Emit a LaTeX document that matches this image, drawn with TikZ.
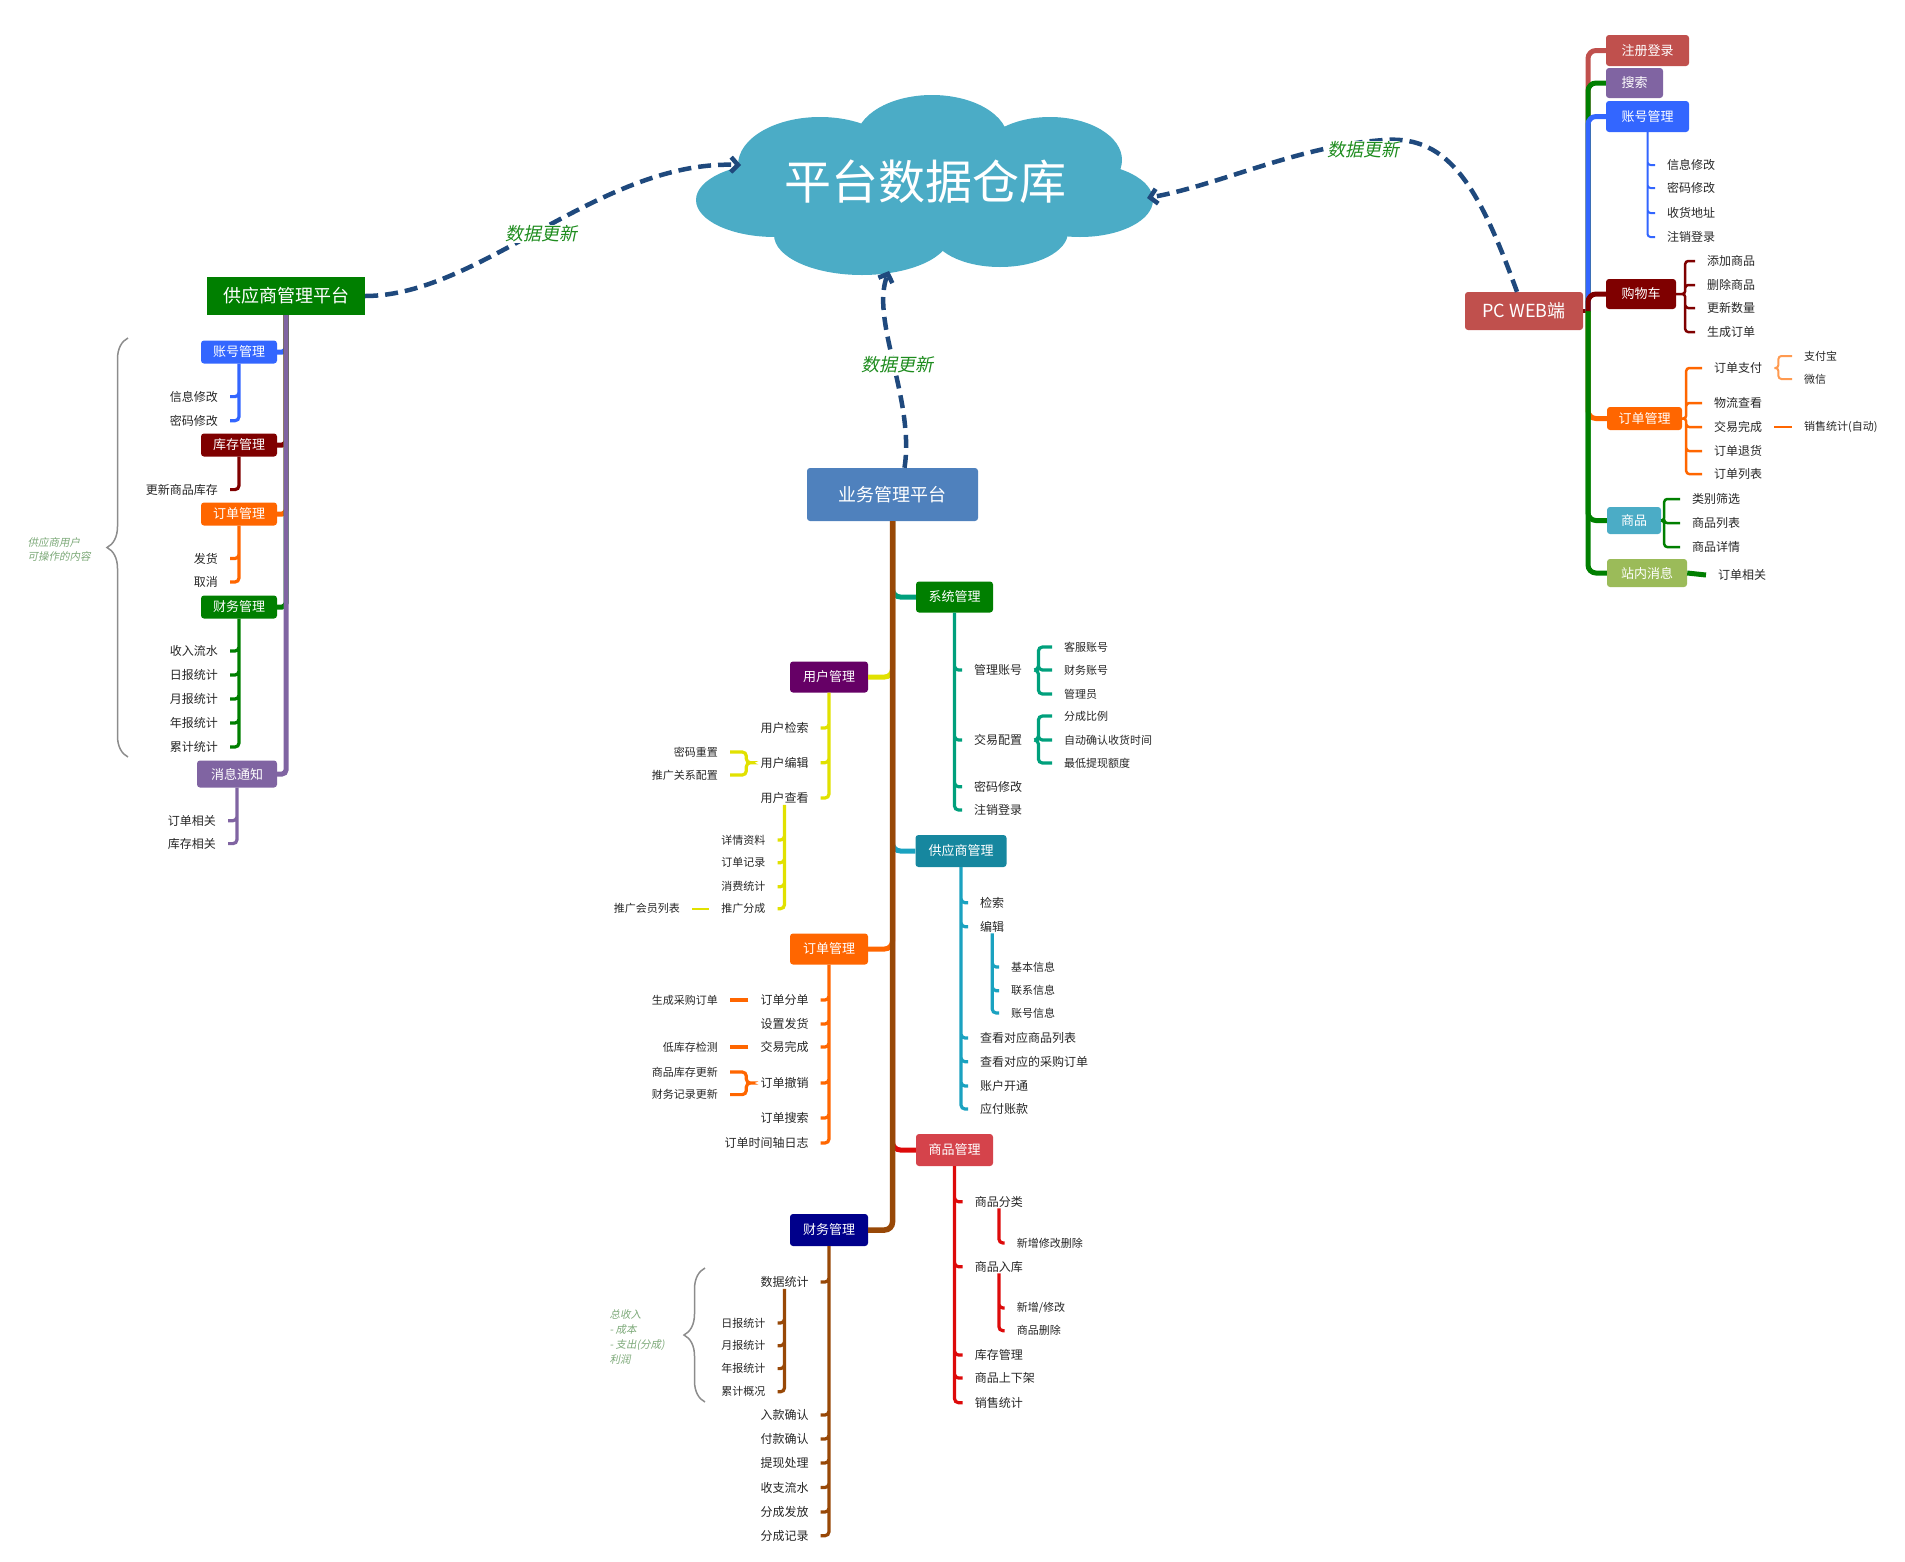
\documentclass[tikz,border=0pt]{standalone}
\usepackage{fontspec}
\setmainfont{Noto Sans CJK SC}
\newfontfamily\slantfont[FakeSlant=0.2]{Noto Sans CJK SC}
\usetikzlibrary{arrows.meta,decorations.pathreplacing}
\definecolor{cloudblue}{HTML}{4BACC6}
\definecolor{updblue}{HTML}{1F497D}
\definecolor{updgreen}{HTML}{1E8C1E}
\definecolor{notegreen}{HTML}{7BA877}
\definecolor{leafgray}{HTML}{262626}
\definecolor{darkgreen}{HTML}{007F00}
\definecolor{royal}{HTML}{3366FF}
\definecolor{maroon}{HTML}{7F0000}
\definecolor{ordorange}{HTML}{FF6600}
\definecolor{paylight}{HTML}{FF9A50}
\definecolor{msgpurple}{HTML}{8064A2}
\definecolor{brick}{HTML}{C0504D}
\definecolor{steel}{HTML}{4F81BD}
\definecolor{trunkbrown}{HTML}{984807}
\definecolor{sysline}{HTML}{00A07C}
\definecolor{supbox}{HTML}{16879F}
\definecolor{supline}{HTML}{1AA2C0}
\definecolor{goodsbox}{HTML}{D5434B}
\definecolor{goodsline}{HTML}{DD0A0A}
\definecolor{userbox}{HTML}{660066}
\definecolor{userline}{HTML}{E1E100}
\definecolor{finbox}{HTML}{00008B}
\definecolor{msggreen}{HTML}{9BBB59}
\definecolor{bracegray}{HTML}{8C8C8C}
\tikzset{
  box/.style={
    rounded corners=3pt, text=white, inner sep=0pt,
    minimum width=76pt, minimum height=23pt,
    font=\fontsize{13}{15}\selectfont
  },
  titlebox/.style={box, font=\fontsize{18}{20}\selectfont},
  leaf/.style={text=leafgray, inner xsep=12pt, inner ysep=1pt, font=\fontsize{12}{14}\selectfont},
  subleaf/.style={leaf, font=\fontsize{11}{13}\selectfont},
  trunk/.style={line width=5pt, rounded corners=8pt},
  twig/.style={line width=3.2pt, rounded corners=4pt},
  thintwig/.style={line width=2pt, rounded corners=3pt},
  update/.style={draw=updblue, line width=4.5pt, dash pattern=on 13pt off 7pt,
    -{Straight Barb[length=7pt,width=15pt]}},
  updlabel/.style={text=updgreen, fill=white, inner sep=1pt, font=\slantfont\fontsize{18}{20}\selectfont},
  note/.style={text=notegreen, align=left, font=\slantfont\fontsize{10.5}{14.5}\selectfont},
  bracket/.style={draw=bracegray, line width=1.5pt, decorate, decoration={brace, amplitude=21pt}}
}
\begin{document}
\begin{tikzpicture}[x=1pt, y=-1pt]
  \useasboundingbox (0,0) rectangle (1905,1561);

  % data warehouse cloud
  \fill[cloudblue] (925,190) ellipse [x radius=180pt, y radius=58pt];
  \fill[cloudblue] (932,140) ellipse [x radius=76pt, y radius=45pt];
  \fill[cloudblue] (820,165) ellipse [x radius=82pt, y radius=48pt];
  \fill[cloudblue] (1050,160) ellipse [x radius=72pt, y radius=43pt];
  \fill[cloudblue] (775,200) ellipse [x radius=79pt, y radius=37pt];
  \fill[cloudblue] (1080,200) ellipse [x radius=73pt, y radius=37pt];
  \fill[cloudblue] (862,235) ellipse [x radius=88pt, y radius=40pt];
  \fill[cloudblue] (1000,232) ellipse [x radius=68pt, y radius=35pt];
  \node[text=white, font=\fontsize{47}{50}\selectfont] (dw) at (925,182) {平台数据仓库};
  \coordinate (dwL) at (741,165);
  \coordinate (dwB) at (889,271);
  \coordinate (dwR) at (1147,198);

  % supplier platform (left)
  \node[titlebox, fill=darkgreen, rounded corners=0pt, minimum width=158pt, minimum height=38pt] (sup) at (286,296) {供应商管理平台};
  \node[box, fill=royal] (s_acc) at (239,352) {账号管理};
  \node[box, fill=maroon] (s_inv) at (239,445) {库存管理};
  \node[box, fill=ordorange] (s_ord) at (239,514) {订单管理};
  \node[box, fill=darkgreen] (s_fin) at (239,607) {财务管理};
  \node[box, fill=msgpurple, minimum width=80pt, minimum height=27pt] (s_msg) at (237,774) {消息通知};

  \draw[trunk, rounded corners=4pt, royal] (sup.south) |- (s_acc.east);
  \draw[trunk, rounded corners=4pt, maroon] (sup.south) |- (s_inv.east);
  \draw[trunk, rounded corners=4pt, ordorange] (sup.south) |- (s_ord.east);
  \draw[trunk, rounded corners=4pt, darkgreen] (sup.south) |- (s_fin.east);
  \draw[trunk, rounded corners=4pt, msgpurple] (sup.south) |- (s_msg.east);

  \node[leaf, anchor=east] (sa1) at (230,396.6) {信息修改};
  \node[leaf, anchor=east] (sa2) at (230,420.7) {密码修改};
  \node[leaf, anchor=east] (si1) at (230,489.6) {更新商品库存};
  \node[leaf, anchor=east] (so1) at (230,558.5) {发货};
  \node[leaf, anchor=east] (so2) at (230,582) {取消};
  \node[leaf, anchor=east] (sf1) at (230,651) {收入流水};
  \node[leaf, anchor=east] (sf2) at (230,675) {日报统计};
  \node[leaf, anchor=east] (sf3) at (230,699) {月报统计};
  \node[leaf, anchor=east] (sf4) at (230,723) {年报统计};
  \node[leaf, anchor=east] (sf5) at (230,747) {累计统计};
  \node[leaf, anchor=east] (sm1x) at (228,820.7) {订单相关};
  \node[leaf, anchor=east] (sm2x) at (228,843.6) {库存相关};

  \draw[twig, royal] (s_acc.south) |- (sa1.east) (s_acc.south) |- (sa2.east);
  \draw[twig, maroon] (s_inv.south) |- (si1.east);
  \draw[twig, ordorange] (s_ord.south) |- (so1.east) (s_ord.south) |- (so2.east);
  \draw[twig, darkgreen] (s_fin.south) |- (sf1.east) (s_fin.south) |- (sf2.east)
    (s_fin.south) |- (sf3.east) (s_fin.south) |- (sf4.east) (s_fin.south) |- (sf5.east);
  \draw[twig, msgpurple] (s_msg.south) |- (sm1x.east) (s_msg.south) |- (sm2x.east);

  \draw[bracket] (128,757) -- (128,338);
  \node[note, anchor=west] (snote) at (24,549.5) {供应商用户\\可操作的内容};

  % business platform (centre)
  \node[titlebox, fill=steel, minimum width=171pt, minimum height=53pt] (biz) at (892.5,494.5) {业务管理平台};
  \node[box, fill=darkgreen, minimum width=77pt, minimum height=31pt] (c_sys) at (954.5,597) {系统管理};
  \node[box, fill=userbox, minimum width=78pt, minimum height=31pt] (c_user) at (829,677) {用户管理};
  \node[box, fill=supbox, minimum width=91pt, minimum height=32pt] (c_sup) at (961,851) {供应商管理};
  \node[box, fill=ordorange, minimum width=78pt, minimum height=31pt] (c_ord) at (829,949) {订单管理};
  \node[box, fill=goodsbox, minimum width=77pt, minimum height=32pt] (c_goods) at (954.5,1150) {商品管理};
  \node[box, fill=finbox, minimum width=78pt, minimum height=32pt] (c_fin) at (829,1230) {财务管理};

  \draw[trunk, sysline] (biz.south) |- (c_sys.west);
  \draw[trunk, userline] (biz.south) |- (c_user.east);
  \draw[trunk, supline] (biz.south) |- (c_sup.west);
  \draw[trunk, ordorange] (biz.south) |- (c_ord.east);
  \draw[trunk, goodsline] (biz.south) |- (c_goods.west);
  \draw[trunk, line width=5.5pt, trunkbrown] (biz.south) |- (c_fin.east);

  % system management
  \node[leaf, anchor=west] (sy1) at (962,670) {管理账号};
  \node[leaf, anchor=west] (sy2) at (962,740) {交易配置};
  \node[leaf, anchor=west] (sy3) at (962,786.7) {密码修改};
  \node[leaf, anchor=west] (sy4) at (962,810) {注销登录};
  \node[subleaf, anchor=west] (sy1a) at (1052,647) {客服账号};
  \node[subleaf, anchor=west] (sy1b) at (1052,670) {财务账号};
  \node[subleaf, anchor=west] (sy1c) at (1052,694) {管理员};
  \node[subleaf, anchor=west] (sy2a) at (1052,716) {分成比例};
  \node[subleaf, anchor=west] (sy2b) at (1052,740) {自动确认收货时间};
  \node[subleaf, anchor=west] (sy2c) at (1052,763) {最低提现额度};
  \draw[twig, sysline] (c_sys.south) |- (sy1.west) (c_sys.south) |- (sy2.west)
    (c_sys.south) |- (sy3.west) (c_sys.south) |- (sy4.west);
  \draw[twig, sysline] (sy1.east) -- ++(4,0) |- (sy1a.west) (sy1.east) -- ++(4,0) |- (sy1b.west)
    (sy1.east) -- ++(4,0) |- (sy1c.west);
  \draw[twig, sysline] (sy2.east) -- ++(4,0) |- (sy2a.west) (sy2.east) -- ++(4,0) |- (sy2b.west)
    (sy2.east) -- ++(4,0) |- (sy2c.west);

  % user management
  \node[leaf, anchor=east] (us1) at (820.7,728) {用户检索};
  \node[leaf, anchor=east] (us2) at (820.7,762.7) {用户编辑};
  \node[leaf, anchor=east] (us3) at (820.7,798) {用户查看};
  \node[subleaf, anchor=east] (us2a) at (730,752) {密码重置};
  \node[subleaf, anchor=east] (us2b) at (730,775) {推广关系配置};
  \node[subleaf, anchor=east] (us3a) at (777.5,840) {详情资料};
  \node[subleaf, anchor=east] (us3b) at (777.5,862.7) {订单记录};
  \node[subleaf, anchor=east] (us3c) at (777.5,886.7) {消费统计};
  \node[subleaf, anchor=east] (us3d) at (777.5,908.7) {推广分成};
  \node[subleaf, anchor=east] (us3e) at (692,908.7) {推广会员列表};
  \draw[twig, userline] (c_user.south) |- (us1.east) (c_user.south) |- (us2.east)
    (c_user.south) |- (us3.east);
  \draw[twig, userline] (us2.west) -- ++(-2,0) |- (us2a.east) (us2.west) -- ++(-2,0) |- (us2b.east);
  \draw[twig, userline] (us3.south) |- (us3a.east) (us3.south) |- (us3b.east)
    (us3.south) |- (us3c.east) (us3.south) |- (us3d.east);
  \draw[twig, line width=2pt, userline] (us3d.west) -- (us3e.east);

  % supplier management
  \node[leaf, anchor=west] (sm1) at (968,902.7) {检索};
  \node[leaf, anchor=west] (sm2) at (968,926.7) {编辑};
  \node[leaf, anchor=west] (sm3) at (968,1038) {查看对应商品列表};
  \node[leaf, anchor=west] (sm4) at (968,1061.7) {查看对应的采购订单};
  \node[leaf, anchor=west] (sm5) at (968,1086) {账户开通};
  \node[leaf, anchor=west] (sm6) at (968,1109) {应付账款};
  \node[subleaf, anchor=west] (sm2a) at (999,967) {基本信息};
  \node[subleaf, anchor=west] (sm2b) at (999,990.7) {联系信息};
  \node[subleaf, anchor=west] (sm2c) at (999,1013) {账号信息};
  \draw[twig, supline] (c_sup.south) |- (sm1.west) (c_sup.south) |- (sm2.west)
    (c_sup.south) |- (sm3.west) (c_sup.south) |- (sm4.west)
    (c_sup.south) |- (sm5.west) (c_sup.south) |- (sm6.west);
  \draw[twig, supline] (sm2.south) |- (sm2a.west) (sm2.south) |- (sm2b.west)
    (sm2.south) |- (sm2c.west);

  % order management
  \node[leaf, anchor=east] (or1) at (820.7,1000) {订单分单};
  \node[leaf, anchor=east] (or2) at (820.7,1024) {设置发货};
  \node[leaf, anchor=east] (or3) at (820.7,1047) {交易完成};
  \node[leaf, anchor=east] (or4) at (820.7,1083) {订单撤销};
  \node[leaf, anchor=east] (or5) at (820.7,1118) {订单搜索};
  \node[leaf, anchor=east] (or6) at (820.7,1143) {订单时间轴日志};
  \node[subleaf, anchor=east] (or1a) at (730,1000) {生成采购订单};
  \node[subleaf, anchor=east] (or3a) at (730,1047) {低库存检测};
  \node[subleaf, anchor=east] (or4a) at (730,1072) {商品库存更新};
  \node[subleaf, anchor=east] (or4b) at (730,1094.6) {财务记录更新};
  \draw[twig, ordorange] (c_ord.south) |- (or1.east) (c_ord.south) |- (or2.east)
    (c_ord.south) |- (or3.east) (c_ord.south) |- (or4.east)
    (c_ord.south) |- (or5.east) (c_ord.south) |- (or6.east);
  \draw[twig, ordorange] (or1.west) -- (or1a.east) (or3.west) -- (or3a.east);
  \draw[twig, ordorange] (or4.west) -- ++(-2,0) |- (or4a.east) (or4.west) -- ++(-2,0) |- (or4b.east);

  % goods management
  \node[leaf, anchor=west] (gd1) at (962.7,1201.7) {商品分类};
  \node[leaf, anchor=west] (gd2) at (962.7,1266.7) {商品入库};
  \node[leaf, anchor=west] (gd3) at (962.7,1355) {库存管理};
  \node[leaf, anchor=west] (gd4) at (962.7,1378) {商品上下架};
  \node[leaf, anchor=west] (gd5) at (962.7,1402.7) {销售统计};
  \node[subleaf, anchor=west] (gd1a) at (1004.7,1243) {新增修改删除};
  \node[subleaf, anchor=west] (gd2a) at (1004.7,1308) {新增/修改};
  \node[subleaf, anchor=west] (gd2b) at (1004.7,1330.7) {商品删除};
  \draw[twig, goodsline] (c_goods.south) |- (gd1.west) (c_goods.south) |- (gd2.west)
    (c_goods.south) |- (gd3.west) (c_goods.south) |- (gd4.west) (c_goods.south) |- (gd5.west);
  \draw[twig, goodsline] (gd1.south) |- (gd1a.west);
  \draw[twig, goodsline] (gd2.south) |- (gd2a.west) (gd2.south) |- (gd2b.west);

  % finance management
  \node[leaf, anchor=east] (fn1) at (820.7,1282) {数据统计};
  \node[leaf, anchor=east] (fn2) at (820.7,1415) {入款确认};
  \node[leaf, anchor=east] (fn3) at (820.7,1439) {付款确认};
  \node[leaf, anchor=east] (fn4) at (820.7,1463) {提现处理};
  \node[leaf, anchor=east] (fn5) at (820.7,1487.5) {收支流水};
  \node[leaf, anchor=east] (fn6) at (820.7,1512) {分成发放};
  \node[leaf, anchor=east] (fn7) at (820.7,1535.7) {分成记录};
  \node[subleaf, anchor=east] (fn1a) at (777.5,1323) {日报统计};
  \node[subleaf, anchor=east] (fn1b) at (777.5,1345.7) {月报统计};
  \node[subleaf, anchor=east] (fn1c) at (777.5,1368.6) {年报统计};
  \node[subleaf, anchor=east] (fn1d) at (777.5,1391.8) {累计概况};
  \draw[twig, trunkbrown] (c_fin.south) |- (fn1.east) (c_fin.south) |- (fn2.east)
    (c_fin.south) |- (fn3.east) (c_fin.south) |- (fn4.east) (c_fin.south) |- (fn5.east)
    (c_fin.south) |- (fn6.east) (c_fin.south) |- (fn7.east);
  \draw[twig, trunkbrown] (fn1.south) |- (fn1a.east) (fn1.south) |- (fn1b.east)
    (fn1.south) |- (fn1c.east) (fn1.south) |- (fn1d.east);
  \draw[bracket] (705,1402) -- (705,1268);
  \node[note, anchor=west, font=\slantfont\fontsize{10.5}{15}\selectfont] (fnote) at (606,1336.5) {总收入\\- 成本\\- 支出(分成)\\利润};

  % PC web client (right)
  \node[titlebox, fill=brick, minimum width=118pt, minimum height=38pt] (pc) at (1524,311) {PC WEB端};
  \node[box, fill=brick, minimum width=83pt, minimum height=31pt] (p_reg) at (1647.5,50.5) {注册登录};
  \node[box, fill=msgpurple, minimum width=57pt, minimum height=30pt] (p_srch) at (1634.5,83) {搜索};
  \node[box, fill=royal, minimum width=83pt, minimum height=31pt] (p_acc) at (1647.5,116.5) {账号管理};
  \node[box, fill=maroon, minimum width=70pt, minimum height=30pt] (p_cart) at (1641,294) {购物车};
  \node[box, fill=ordorange, minimum width=75pt, minimum height=23pt] (p_ord) at (1644.5,418.5) {订单管理};
  \node[box, fill=cloudblue, minimum width=54pt, minimum height=27pt] (p_goods) at (1634,520.5) {商品};
  \node[box, fill=msggreen, minimum width=80pt, minimum height=28pt] (p_msg) at (1647,573) {站内消息};
  \coordinate (pcr) at (1588,311);

  \draw[trunk, line width=4.5pt, maroon] (pc.east) -- (pcr);
  \draw[trunk, brick] (pcr) |- (p_reg.west);
  \draw[trunk, darkgreen] (pcr) |- (p_srch.west);
  \draw[trunk, royal] (pcr) |- (p_acc.west);
  \draw[trunk, ordorange] (pcr) |- (p_ord.west);
  \draw[trunk, darkgreen] (pcr) |- (p_msg.west);
  \draw[trunk, darkgreen] (pcr) |- (p_goods.west);
  \draw[trunk, maroon] (pcr) |- (p_cart.west);

  \node[leaf, anchor=west] (pa1) at (1655,165) {信息修改};
  \node[leaf, anchor=west] (pa2) at (1655,188) {密码修改};
  \node[leaf, anchor=west] (pa3) at (1655,213) {收货地址};
  \node[leaf, anchor=west] (pa4) at (1655,237) {注销登录};
  \node[leaf, anchor=west] (pk1) at (1695,261) {添加商品};
  \node[leaf, anchor=west] (pk2) at (1695,285) {删除商品};
  \node[leaf, anchor=west] (pk3) at (1695,308) {更新数量};
  \node[leaf, anchor=west] (pk4) at (1695,332) {生成订单};
  \node[leaf, anchor=west] (po1) at (1702,368) {订单支付};
  \node[leaf, anchor=west] (po2) at (1702,403) {物流查看};
  \node[leaf, anchor=west] (po3) at (1702,427) {交易完成};
  \node[leaf, anchor=west] (po4) at (1702,451) {订单退货};
  \node[leaf, anchor=west] (po5) at (1702,474) {订单列表};
  \node[subleaf, anchor=west] (po1a) at (1792,356) {支付宝};
  \node[subleaf, anchor=west] (po1b) at (1792,379) {微信};
  \node[subleaf, anchor=west] (po3a) at (1792,427) {销售统计(自动)};
  \node[leaf, anchor=west] (pg1) at (1680,499) {类别筛选};
  \node[leaf, anchor=west] (pg2) at (1680,523) {商品列表};
  \node[leaf, anchor=west] (pg3) at (1680,547) {商品详情};
  \node[leaf, anchor=west] (pm1) at (1706,575) {订单相关};

  \draw[thintwig, royal] (p_acc.south) |- (pa1.west) (p_acc.south) |- (pa2.west)
    (p_acc.south) |- (pa3.west) (p_acc.south) |- (pa4.west);
  \draw[thintwig, line width=2.5pt, maroon] (p_cart.east) -- ++(9,0) |- (pk1.west) (p_cart.east) -- ++(9,0) |- (pk2.west)
    (p_cart.east) -- ++(9,0) |- (pk3.west) (p_cart.east) -- ++(9,0) |- (pk4.west);
  \draw[thintwig, line width=2.5pt, ordorange] (p_ord.east) -- ++(4,0) |- (po1.west) (p_ord.east) -- ++(4,0) |- (po2.west)
    (p_ord.east) -- ++(4,0) |- (po3.west) (p_ord.east) -- ++(4,0) |- (po4.west)
    (p_ord.east) -- ++(4,0) |- (po5.west);
  \draw[thintwig, paylight] (po1.east) -- ++(4,0) |- (po1a.west) (po1.east) -- ++(4,0) |- (po1b.west);
  \draw[thintwig, ordorange] (po3.east) -- (po3a.west);
  \draw[thintwig, line width=2.5pt, darkgreen] (p_goods.east) -- ++(3,0) |- (pg1.west) (p_goods.east) -- ++(3,0) |- (pg2.west)
    (p_goods.east) -- ++(3,0) |- (pg3.west);
  \draw[trunk, darkgreen] (p_msg.east) -- (pm1.west);

  % data update links
  \draw[update] (sup.east) .. controls (480,296) and (600,160) .. (dwL);
  \draw[update] ([xshift=12pt]biz.north) .. controls (915,400) and (870,320) .. (dwB);
  \draw[update] ([xshift=-7pt]pc.north) .. controls (1480,190) and (1450,135) .. (1385,140)
    .. controls (1300,145) and (1220,185) .. (dwR);
  \node[updlabel] (upd1) at (541,234) {数据更新};
  \node[updlabel] (upd2) at (897,365) {数据更新};
  \node[updlabel] (upd3) at (1363,150) {数据更新};
\end{tikzpicture}
\end{document}
